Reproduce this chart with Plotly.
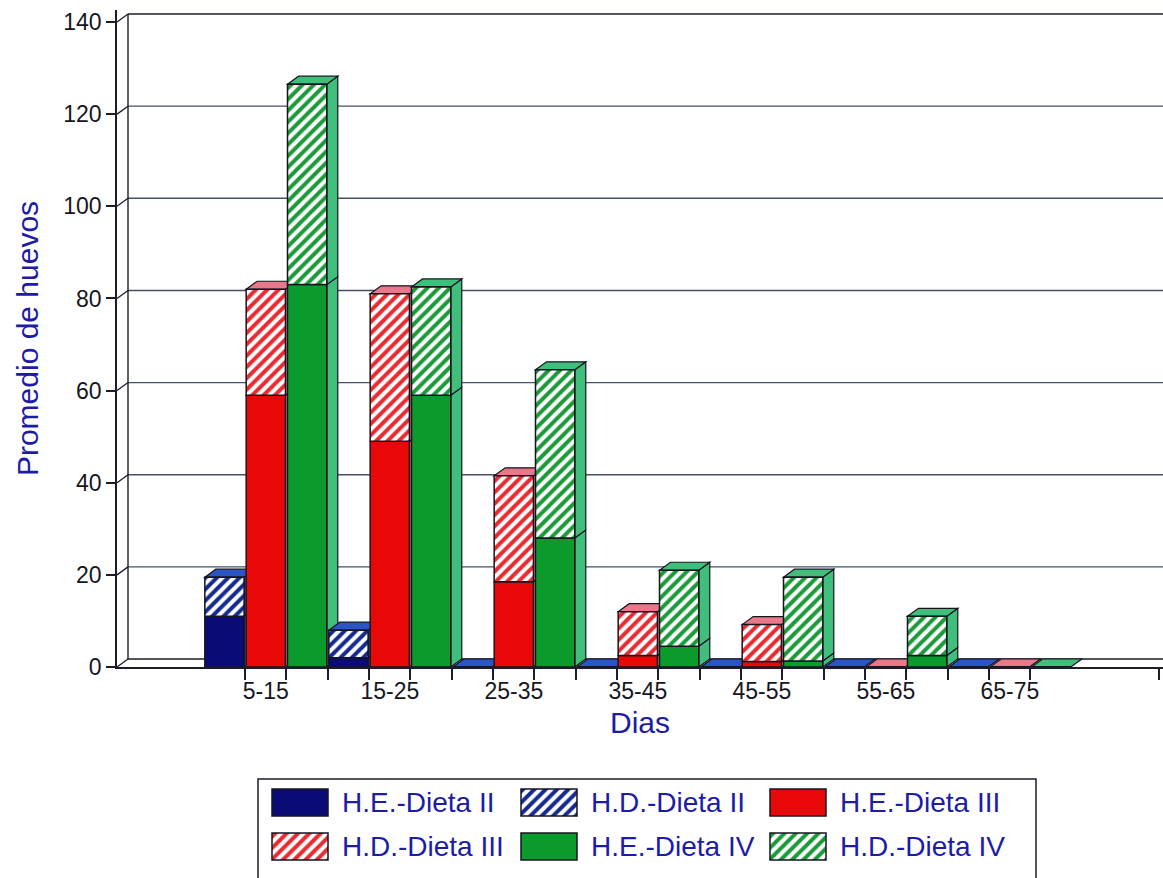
import plotly.graph_objects as go

# ---- data -------------------------------------------------------------
cats = ["5-15", "15-25", "25-35", "35-45", "45-55", "55-65", "65-75"]

he_d2 = [11, 2, 0, 0, 0, 0, 0]
hd_d2 = [8.5, 6, 0, 0, 0, 0, 0]

he_d3 = [59, 49, 18.5, 2.5, 1.2, 0, 0]
hd_d3 = [23, 32, 23, 9.5, 8, 0, 0]

he_d4 = [83, 59, 28, 4.5, 1.3, 2.5, 0]
hd_d4 = [43.5, 23.5, 36.5, 16.5, 18.2, 8.5, 0]

y_ticks = [0, 20, 40, 60, 80, 100, 120, 140]

# ---- geometry / style --------------------------------------------------
W, H = 1163, 878
PLOT_L, PLOT_R, PLOT_T, PLOT_B = 117, 1163, 10, 667
PX_PER_CAT = 124.0
PX_PER_UNIT = 4.607
X_LO = -1.2
X_HI = X_LO + (PLOT_R - PLOT_L) / PX_PER_CAT
Y_HI = (PLOT_B - PLOT_T) / PX_PER_UNIT
DX = 11 / PX_PER_CAT      # depth offset of the 3-D look, in data units
DY = 8 / PX_PER_UNIT
BARGAP, GROUPGAP = 0.0, 0.05

EDGE = "#15151f"
AXIS = "#1c1c2a"
GRID = "#4a4e66"
TITLE_BLUE = "#1c1ca6"
TICK_TXT = "#16161e"
FONT = "Liberation Sans, Arial, Helvetica, sans-serif"

series = [
    # name, H.E. values, H.D. values, solid colour, stripe colour, 3-D face colour
    ("Dieta II", he_d2, hd_d2, "#0b0b78", "#152a90", "#2b55c6"),
    ("Dieta III", he_d3, hd_d3, "#e80808", "#ea2a30", "#e8788a"),
    ("Dieta IV", he_d4, hd_d4, "#0b9a2c", "#1a9a38", "#40be7c"),
]

n = len(cats)
xs = list(range(n))

fig = go.Figure()


def stripes(col):
    return dict(shape="/", fgcolor=col, bgcolor="white", fgopacity=1,
                size=8, solidity=0.5)


for k, (name, he, hd, solid, stripe, face) in enumerate(series):
    fig.add_trace(go.Bar(
        x=xs, y=he, offsetgroup=str(k), name="H.E.-" + name, showlegend=False,
        marker=dict(color=solid, line=dict(color=EDGE, width=1.5)),
    ))
    fig.add_trace(go.Bar(
        x=xs, y=hd, base=he, offsetgroup=str(k), name="H.D.-" + name, showlegend=False,
        marker=dict(color="white", line=dict(color=EDGE, width=1.5), pattern=stripes(stripe)),
    ))

shapes = []

# back wall, floor and gridlines (drawn behind everything)
xb = X_LO + DX
for v in y_ticks:
    if v > 0:
        shapes.append(dict(type="line", xref="x", yref="y", layer="below",
                           x0=xb, x1=X_HI, y0=v + DY, y1=v + DY,
                           line=dict(color=GRID if v < max(y_ticks) else AXIS, width=1.4)))
    shapes.append(dict(type="line", xref="x", yref="y", layer="below",
                       x0=X_LO, x1=xb, y0=v, y1=v + DY,
                       line=dict(color=AXIS, width=1.3)))
shapes.append(dict(type="line", xref="x", yref="y", layer="below",
                   x0=xb, x1=X_HI, y0=DY, y1=DY, line=dict(color=AXIS, width=1.4)))
shapes.append(dict(type="line", xref="x", yref="y", layer="below",
                   x0=xb, x1=xb, y0=DY, y1=max(y_ticks) + DY, line=dict(color=AXIS, width=1.4)))

# side faces and top caps of each bar, left to right
slot = (1 - BARGAP) / len(series)
half = slot * (1 - GROUPGAP) / 2


def poly(pts):
    return "M " + " L ".join(f"{px:.5f},{py:.5f}" for px, py in pts) + " Z"


for i in range(n):
    for k, (name, he, hd, solid, stripe, face) in enumerate(series):
        c = i + (k - (len(series) - 1) / 2) * slot
        xl, xr = c - half, c + half
        segs = [(0, he[i]), (he[i], he[i] + hd[i])]
        for y0, y1 in segs:
            if y1 > y0:
                shapes.append(dict(type="path", xref="x", yref="y", layer="between",
                                   path=poly([(xr, y0), (xr + DX, y0 + DY),
                                              (xr + DX, y1 + DY), (xr, y1)]),
                                   fillcolor=face, line=dict(color=EDGE, width=1.2)))
        top = he[i] + hd[i]
        shapes.append(dict(type="path", xref="x", yref="y", layer="between",
                           path=poly([(xl, top), (xl + DX, top + DY),
                                      (xr + DX, top + DY), (xr, top)]),
                           fillcolor=face, line=dict(color=EDGE, width=1.2)))

# ---- legend (swatches on a full-page pixel axis) ------------------------
LEG_COLS = [272, 521, 770]
LEG_ROWS = [789, 833]
SW_W, SW_H = 56, 27
entries = []
for k, (name, he, hd, solid, stripe, face) in enumerate(series):
    entries.append(("H.E.-" + name, solid, None))
    entries.append(("H.D.-" + name, "white", stripe))

annotations = []
for j, (label, col, stripe) in enumerate(entries):
    r, cidx = divmod(j, 3)
    marker = dict(color=col, line=dict(color=EDGE, width=1.5))
    if stripe:
        marker["pattern"] = stripes(stripe)
    fig.add_trace(go.Bar(
        x=[LEG_COLS[cidx]], y=[SW_H], base=[LEG_ROWS[r]], width=SW_W, offset=0,
        xaxis="x2", yaxis="y2", showlegend=False, hoverinfo="skip", marker=marker,
    ))
    annotations.append(dict(xref="x2", yref="y2", x=LEG_COLS[cidx] + SW_W + 12,
                            y=LEG_ROWS[r] + SW_H / 2, text=label, showarrow=False,
                            xanchor="left", yanchor="middle",
                            font=dict(family=FONT, size=28, color=TITLE_BLUE)))

shapes.append(dict(type="rect", xref="x2", yref="y2", layer="below",
                   x0=258, x1=1036, y0=779, y1=H + 20,
                   line=dict(color=AXIS, width=1.5), fillcolor="rgba(0,0,0,0)"))

# ---- minor ticks at bar boundaries --------------------------------------
boundary_ticks = [-0.5 + slot * (m + 1) for m in range(3 * (n - 1) + 2)]
boundary_ticks.append(n + 0.2)   # end of the floor

fig.update_layout(
    width=W, height=H,
    margin=dict(l=0, r=0, t=0, b=0),
    paper_bgcolor="white", plot_bgcolor="rgba(0,0,0,0)",
    barmode="group", bargap=BARGAP, bargroupgap=GROUPGAP,
    showlegend=False,
    font=dict(family=FONT, size=23, color=TICK_TXT),
    shapes=shapes,
    annotations=annotations,
    xaxis=dict(
        domain=[PLOT_L / W, PLOT_R / W], range=[X_LO, X_HI], automargin=False,
        tickmode="array", tickvals=xs, ticktext=cats,
        ticks="outside", ticklen=3, tickcolor="rgba(0,0,0,0)",
        showgrid=False, zeroline=False,
        showline=True, linecolor=AXIS, linewidth=1.5,
        tickfont=dict(size=23, color=TICK_TXT),
        minor=dict(tickmode="array", tickvals=boundary_ticks, ticks="outside",
                   ticklen=11, tickcolor=AXIS, tickwidth=1.5, showgrid=False),
        title=dict(text="Dias", standoff=9, font=dict(size=30, color=TITLE_BLUE)),
    ),
    yaxis=dict(
        domain=[1 - PLOT_B / H, 1 - PLOT_T / H], range=[0, Y_HI], automargin=False,
        tickmode="array", tickvals=y_ticks,
        ticks="outside", ticklen=9, tickcolor=AXIS, tickwidth=1.5,
        showgrid=False, zeroline=False,
        showline=True, linecolor=AXIS, linewidth=1.5,
        tickfont=dict(size=23, color=TICK_TXT),
        title=dict(text="Promedio de huevos", standoff=16, font=dict(size=30, color=TITLE_BLUE)),
    ),
    xaxis2=dict(domain=[0, 1], range=[0, W], anchor="y2", visible=False, fixedrange=True),
    yaxis2=dict(domain=[0, 1], range=[H, 0], anchor="x2", visible=False, fixedrange=True),
)

fig.write_html("out.html")
